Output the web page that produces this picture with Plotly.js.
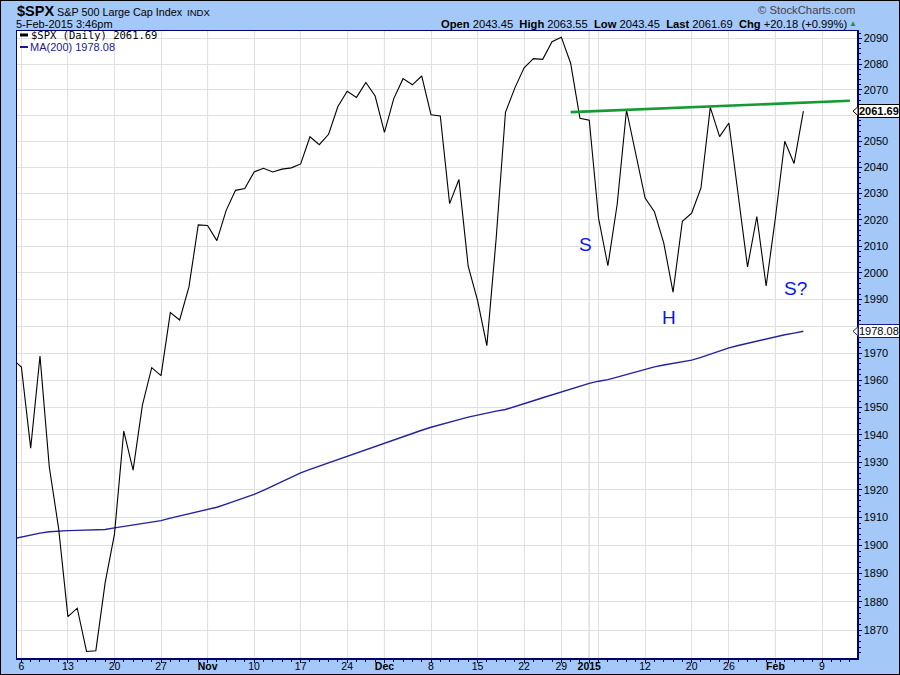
<!DOCTYPE html>
<html><head><meta charset="utf-8">
<script src="https://cdn.plot.ly/plotly-3.0.1.min.js"></script>
<style>
html,body{margin:0;padding:0;background:#a4c8f8;}
#chart{width:900px;height:675px;}
#frame{position:absolute;left:0;top:0;width:898px;height:673px;border:1px solid #000;pointer-events:none;}
</style>
</head><body>
<div id="chart"></div>
<div id="frame"></div>
<script>
// ---- data ----
const sessions = [
 "2014-10-03","2014-10-06","2014-10-07","2014-10-08","2014-10-09","2014-10-10","2014-10-13","2014-10-14","2014-10-15","2014-10-16","2014-10-17",
 "2014-10-20","2014-10-21","2014-10-22","2014-10-23","2014-10-24","2014-10-27","2014-10-28","2014-10-29","2014-10-30","2014-10-31",
 "2014-11-03","2014-11-04","2014-11-05","2014-11-06","2014-11-07","2014-11-10","2014-11-11","2014-11-12","2014-11-13","2014-11-14",
 "2014-11-17","2014-11-18","2014-11-19","2014-11-20","2014-11-21","2014-11-24","2014-11-25","2014-11-26","2014-11-28",
 "2014-12-01","2014-12-02","2014-12-03","2014-12-04","2014-12-05","2014-12-08","2014-12-09","2014-12-10","2014-12-11","2014-12-12",
 "2014-12-15","2014-12-16","2014-12-17","2014-12-18","2014-12-19","2014-12-22","2014-12-23","2014-12-24","2014-12-26","2014-12-29","2014-12-30","2014-12-31",
 "2015-01-02","2015-01-05","2015-01-06","2015-01-07","2015-01-08","2015-01-09","2015-01-12","2015-01-13","2015-01-14","2015-01-15","2015-01-16",
 "2015-01-20","2015-01-21","2015-01-22","2015-01-23","2015-01-26","2015-01-27","2015-01-28","2015-01-29","2015-01-30",
 "2015-02-02","2015-02-03","2015-02-04","2015-02-05","2015-02-06","2015-02-09","2015-02-10","2015-02-11","2015-02-12","2015-02-13"
];
const closes = [
 1967.90,1964.82,1935.10,1968.89,1928.21,1906.13,1874.74,1877.70,1862.49,1862.76,1886.76,
 1904.01,1941.28,1927.11,1950.82,1964.58,1961.63,1985.05,1982.30,1994.65,2018.05,
 2017.81,2012.10,2023.57,2031.21,2031.92,2038.26,2039.68,2038.25,2039.33,2039.82,
 2041.32,2051.80,2048.72,2052.75,2063.50,2069.41,2067.03,2072.83,2067.56,
 2053.44,2066.55,2074.33,2071.92,2075.37,2060.31,2059.82,2026.14,2035.33,2002.33,
 1989.63,1972.74,2012.89,2061.23,2070.65,2078.54,2082.17,2081.88,2088.77,2090.57,2080.35,2058.90,
 2058.20,2020.58,2002.61,2025.90,2062.14,2044.81,2028.26,2023.03,2011.27,1992.67,2019.42,
 2022.55,2032.12,2063.15,2051.82,2057.09,2029.55,2002.16,2021.25,1994.99,
 2020.85,2050.03,2041.51,2061.69
];
const ma200 = [
 1902.3,1903.0,1903.8,1904.4,1904.9,1905.2,1905.3,1905.4,1905.5,1905.6,1905.7,
 1906.3,1906.8,1907.2,1907.8,1908.4,1908.9,1909.8,1910.6,1911.3,1912.0,
 1913.0,1913.7,1914.8,1915.9,1917.1,1918.3,1919.8,1921.4,1922.9,1924.6,
 1926.1,1927.4,1928.6,1929.8,1931.0,1932.2,1933.4,1934.6,1935.7,
 1936.8,1938.0,1939.2,1940.4,1941.6,1942.7,1943.7,1944.6,1945.5,1946.4,
 1947.2,1947.9,1948.6,1949.2,1950.2,1951.3,1952.4,1953.5,1954.6,1955.7,1956.8,1957.8,
 1958.8,1959.6,1960.2,1961.1,1962.1,1963.0,1964.0,1964.9,1965.6,1966.2,1966.8,
 1967.4,1968.4,1969.6,1970.8,1971.9,1972.8,1973.6,1974.4,1975.3,
 1976.1,1976.8,1977.4,1978.08
];
const trendDates = ["2014-12-30","2015-02-12"];
const trendValues = [2061.3, 2065.7];
const tickDates = ["2014-10-06","2014-10-13","2014-10-20","2014-10-27","2014-11-03","2014-11-10","2014-11-17","2014-11-24",
 "2014-12-01","2014-12-08","2014-12-15","2014-12-22","2014-12-29","2015-01-02","2015-01-05","2015-01-12","2015-01-20","2015-01-26",
 "2015-02-02","2015-02-09"];
const tickLabels = ["6","13","20","27","<b>Nov</b>","10","17","24","<b>Dec</b>","8","15","22","29","<b>2015</b>","","12","20","26","<b>Feb</b>","9"];
const monthStarts = ["2014-11-03","2014-12-01","2015-01-02","2015-02-02"];
const yTicks = [1870,1880,1890,1900,1910,1920,1930,1940,1950,1960,1970,1980,1990,2000,2010,2020,2030,2040,2050,2060,2070,2080,2090];
const headerStats = [["Open","2043.45"],["High","2063.55"],["Low","2043.45"],["Last","2061.69"],["Chg","+20.18 (+0.99%)"]];
const lastClose = "2061.69";
const lastMA = "1978.08";

// ---- layout helpers ----
const W=900,H=675,L=17,R=43,T=31,B=17;
const PW=W-L-R, PH=H-T-B;
const YLO=Math.log10(1860.2), YHI=Math.log10(2093.0);
const px = x => (x-L)/PW;
const py = y => (H-B-y)/PH;
const vpy = v => (Math.log10(v)-YLO)/(YHI-YLO);
const idx = d => sessions.indexOf(d);
const xIdx = closes.map((_,i)=>i);
const F = "Liberation Sans, Arial, sans-serif";

const traces = [
 {x:xIdx, y:ma200, type:"scatter", mode:"lines", line:{color:"#22229c", width:1.4}, hoverinfo:"skip"},
 {x:xIdx, y:closes, type:"scatter", mode:"lines", line:{color:"#000000", width:1.1}, hoverinfo:"skip"},
 {x:trendDates.map(idx), y:trendValues, type:"scatter", mode:"lines", line:{color:"#159a34", width:2.6}, hoverinfo:"skip"}
];

const shapes = monthStarts.map(d=>({type:"line", xref:"x", yref:"paper", x0:idx(d), x1:idx(d), y0:0, y1:1,
  line:{color:"#bdbdbd", width:1}, layer:"below"}));
shapes.push({type:"line", xref:"paper", yref:"paper", x0:px(20), x1:px(28), y0:py(35), y1:py(35), line:{color:"#000", width:3}});
shapes.push({type:"line", xref:"paper", yref:"paper", x0:px(20), x1:px(28), y0:py(47), y1:py(47), line:{color:"#1a1a8c", width:2}});
// pointer tips of the value tags on the price axis
[[lastClose,"#000"],[lastMA,"#1a1a8c"]].forEach(([v,c])=>{
  const yc=vpy(parseFloat(v)), dy=4.5/PH;
  shapes.push({type:"path", xref:"paper", yref:"paper",
    path:`M ${px(858)} ${yc+dy} L ${px(853)} ${yc} L ${px(858)} ${yc-dy} Z`, fillcolor:"#fff", line:{color:c, width:1}});
});

const statsText = headerStats.map(s=>"<b>"+s[0]+"</b> "+s[1]).join("  ");
const annotations = [
 {xref:"paper", yref:"paper", x:px(15), y:py(11), xanchor:"left", yanchor:"middle", showarrow:false, text:"<b>$SPX</b>", font:{family:F, size:14.5, color:"#000"}},
 {xref:"paper", yref:"paper", x:px(55), y:py(11.5), xanchor:"left", yanchor:"middle", showarrow:false, text:"S&P 500 Large Cap Index", font:{family:F, size:10.8, color:"#000"}},
 {xref:"paper", yref:"paper", x:px(185), y:py(12), xanchor:"left", yanchor:"middle", showarrow:false, text:"INDX", font:{family:F, size:9.6, color:"#000"}},
 {xref:"paper", yref:"paper", x:px(14), y:py(24), xanchor:"left", yanchor:"middle", showarrow:false, text:"5-Feb-2015 3:46pm", font:{family:F, size:11, color:"#000"}},
 {xref:"paper", yref:"paper", x:px(857), y:py(10), xanchor:"right", yanchor:"middle", showarrow:false, text:"© StockCharts.com", font:{family:F, size:11.3, color:"#444"}},
 {xref:"paper", yref:"paper", x:px(849), y:py(24), xanchor:"right", yanchor:"middle", showarrow:false, text:statsText, font:{family:F, size:11.2, color:"#000"}},
 {xref:"paper", yref:"paper", x:px(853), y:py(23.5), xanchor:"center", yanchor:"middle", showarrow:false, text:"▲", font:{family:F, size:8, color:"#2e8b3e"}},
 {xref:"paper", yref:"paper", x:px(29), y:py(35), xanchor:"left", yanchor:"middle", showarrow:false, text:"$SPX (Daily) "+lastClose, font:{family:"DejaVu Sans Mono, monospace", size:10.5, color:"#000"}},
 {xref:"paper", yref:"paper", x:px(28), y:py(47), xanchor:"left", yanchor:"middle", showarrow:false, text:"MA(200) "+lastMA, font:{family:F, size:11, color:"#1a1a8c"}},
 {xref:"x", yref:"y", x:61.6, y:Math.log10(2010.8), showarrow:false, text:"S", font:{family:F, size:19, color:"#0a14f0"}},
 {xref:"x", yref:"y", x:70.6, y:Math.log10(1983.3), showarrow:false, text:"H", font:{family:F, size:19, color:"#0a14f0"}},
 {xref:"x", yref:"y", x:84.2, y:Math.log10(1994.1), showarrow:false, text:"S?", font:{family:F, size:19, color:"#0a14f0"}},
 {xref:"paper", yref:"y", x:1, y:Math.log10(parseFloat(lastClose)), xanchor:"left", yanchor:"middle", xshift:1, showarrow:false, text:"<b>"+lastClose+"</b>",
   font:{family:F, size:11, color:"#000"}, bgcolor:"#fff", bordercolor:"#000", borderwidth:1, borderpad:0},
 {xref:"paper", yref:"y", x:1, y:Math.log10(parseFloat(lastMA)), xanchor:"left", yanchor:"middle", xshift:1, showarrow:false, text:lastMA,
   font:{family:F, size:11, color:"#000"}, bgcolor:"#fff", bordercolor:"#1a1a8c", borderwidth:1, borderpad:0}
];

const minorY = [];
for (let v=1862; v<=2092; v+=2) minorY.push(v);
// tick labels hidden behind the value tags
const hidden = [2060, 1980];

const layout = {
 width:W, height:H, margin:{l:L, r:R, t:T, b:B, pad:0},
 paper_bgcolor:"#a4c8f8", plot_bgcolor:"#ffffff", showlegend:false,
 font:{family:F, size:11, color:"#000"},
 xaxis:{type:"linear", range:[0.53, 90.76], tickmode:"array", tickvals:tickDates.map(idx), ticktext:tickLabels,
   ticks:"outside", ticklen:3, tickcolor:"#000066", showgrid:true, gridcolor:"#e0e0e0", gridwidth:1, zeroline:false,
   showline:true, linecolor:"#000066", linewidth:1.5, mirror:true, tickfont:{family:F, size:10.5, color:"#000"},
   ticklabelstandoff:-5,
   minor:{dtick:1, ticks:"outside", ticklen:2, tickcolor:"#000066", showgrid:false}},
 yaxis:{type:"log", side:"right", range:[YLO, YHI], tickmode:"array", tickvals:yTicks, ticktext:yTicks.map(v=>hidden.includes(v)?"":String(v)),
   ticks:"outside", ticklen:3, tickcolor:"#000066", showgrid:true, gridcolor:"#e0e0e0", gridwidth:1, zeroline:false,
   showline:true, linecolor:"#000066", linewidth:1.5, mirror:true, tickfont:{family:F, size:11, color:"#000"},
   minor:{tickmode:"array", tickvals:minorY, ticks:"outside", ticklen:2, tickcolor:"#000066", showgrid:false}},
 shapes:shapes, annotations:annotations
};
Plotly.newPlot("chart", traces, layout, {staticPlot:true, displayModeBar:false});
</script>
</body></html>
